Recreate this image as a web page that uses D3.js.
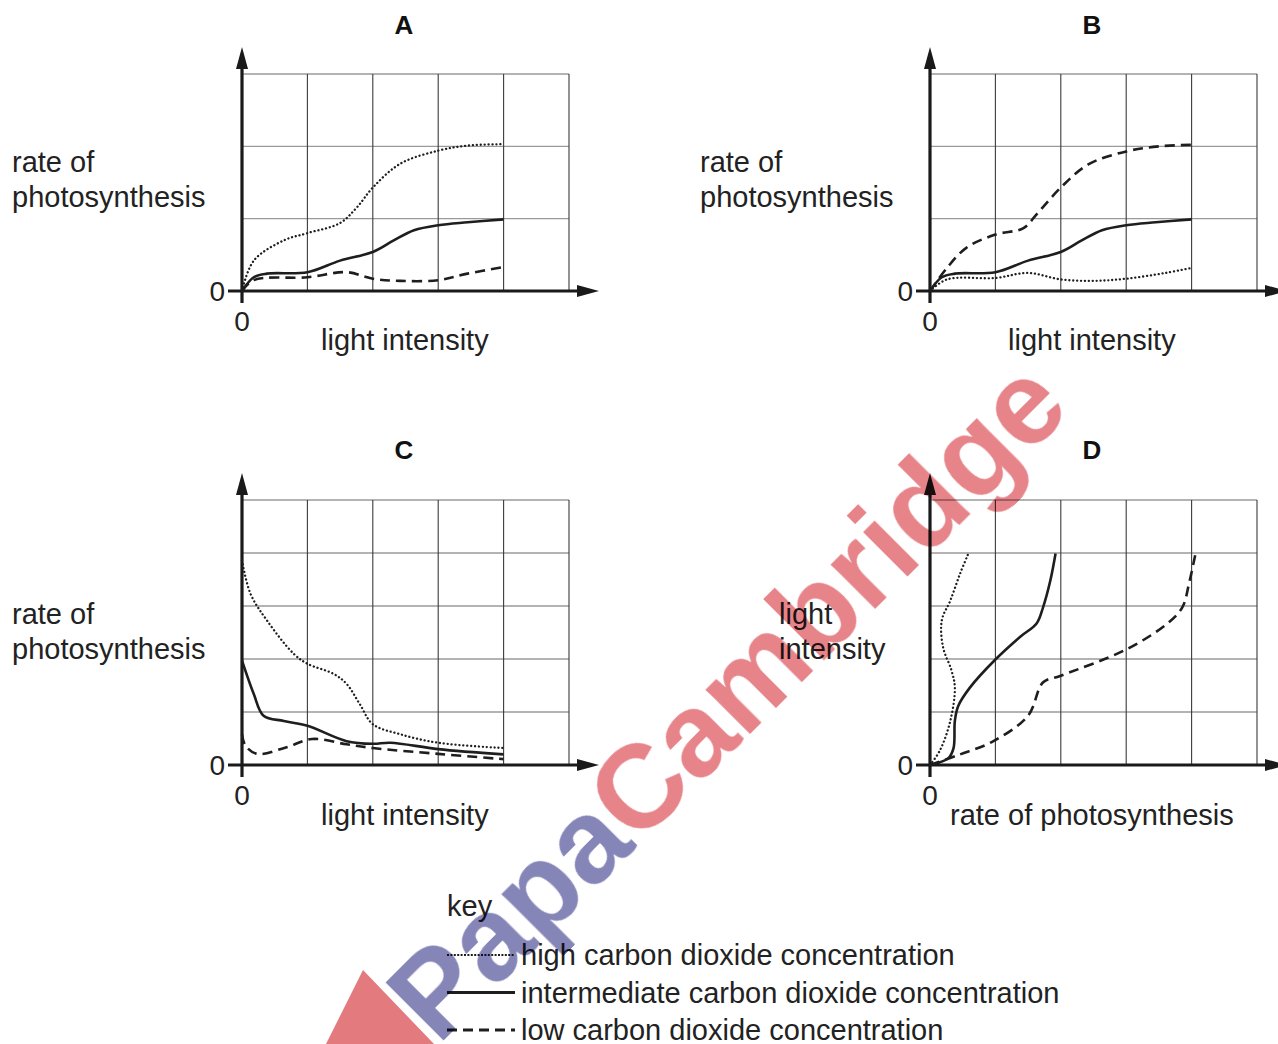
<!DOCTYPE html>
<html>
<head>
<meta charset="utf-8">
<script src="https://cdn.jsdelivr.net/npm/d3@7"></script>
<style>
  body { margin: 0; background: #fff; }
  svg { font-family: "Liberation Sans", Arial, sans-serif; }
</style>
</head>
<body>
<div id="chart"></div>
<script>
// curves, in grid units (x = column, y = row)
const aHigh = [[0,0],[0.18,0.42],[0.64,0.70],[1.0,0.80],[1.5,0.94],[1.76,1.16],[2.0,1.43],[2.42,1.76],[3.0,1.94],[3.45,2.01],[4.0,2.03]];
const aMid  = [[0,0],[0.18,0.19],[0.38,0.24],[1.0,0.26],[1.5,0.42],[2.0,0.54],[2.32,0.70],[2.63,0.84],[3.0,0.91],[3.45,0.95],[4.0,0.99]];
const aLow  = [[0,0],[0.18,0.15],[1.0,0.19],[1.6,0.26],[2.0,0.17],[2.42,0.14],[3.0,0.15],[3.45,0.24],[4.0,0.33]];

const bHigh = [[0,0],[0.26,0.16],[1.0,0.18],[1.5,0.25],[2.0,0.16],[2.5,0.14],[3.0,0.17],[3.6,0.25],[4.0,0.32]];
const bMid  = [[0,0],[0.18,0.19],[0.38,0.24],[1.0,0.26],[1.5,0.42],[2.0,0.54],[2.32,0.70],[2.63,0.84],[3.0,0.91],[3.45,0.95],[4.0,0.99]];
const bLow  = [[0,0],[0.26,0.32],[0.56,0.60],[1.0,0.78],[1.43,0.87],[1.63,1.06],[2.0,1.43],[2.42,1.75],[3.0,1.93],[3.5,2.0],[4.0,2.02]];

const cHigh = [[0,3.86],[0.13,3.23],[0.38,2.73],[0.79,2.10],[1.0,1.91],[1.4,1.72],[1.6,1.53],[1.8,1.15],[2.0,0.77],[2.42,0.58],[3.0,0.42],[4.0,0.32]];
const cMid  = [[0,1.97],[0.18,1.34],[0.33,0.93],[0.64,0.83],[1.0,0.74],[1.6,0.45],[2.0,0.40],[2.27,0.42],[3.0,0.30],[4.0,0.20]];
const cLow  = [[0,0.58],[0.05,0.37],[0.23,0.21],[0.67,0.33],[1.07,0.49],[1.6,0.39],[2.0,0.32],[3.0,0.21],[4.0,0.11]];

const dHigh = [[0,0],[0.15,0.27],[0.31,0.83],[0.38,1.46],[0.33,1.78],[0.20,2.22],[0.18,2.73],[0.31,3.1],[0.46,3.61],[0.59,4.0]];
const dMid  = [[0,0],[0.28,0.13],[0.36,0.32],[0.38,0.83],[0.43,1.11],[0.61,1.46],[1.0,1.99],[1.38,2.42],[1.63,2.67],[1.73,2.98],[1.84,3.48],[1.92,3.99]];
const dLow  = [[0,0],[0.46,0.2],[0.97,0.45],[1.5,0.93],[1.73,1.56],[1.99,1.68],[3.0,2.18],[3.63,2.67],[3.86,2.98],[3.96,3.42],[4.06,3.99]];

const panelNames = ["A", "B", "C", "D"];
const keyLabels = ["high carbon dioxide concentration", "intermediate carbon dioxide concentration", "low carbon dioxide concentration"];

const styles = {
  high: { w: 2.3, dash: "0.1,3.8", cap: "round" },
  mid:  { w: 2.6, dash: null, cap: "butt" },
  low:  { w: 2.6, dash: "10,6", cap: "butt" }
};

const W = 1278, H = 1044;
const svg = d3.select("#chart").append("svg").attr("width", W).attr("height", H);

function panel(opt) {
  const g = svg.append("g");
  const x = d3.scaleLinear().domain([0, 5]).range([opt.x0, opt.x0 + 327]);
  const y = d3.scaleLinear().domain([0, opt.rows]).range([opt.y0, opt.yTop]);

  // grid
  g.selectAll(".hg").data(d3.range(1, opt.rows + 1)).enter().append("line")
    .attr("x1", x(0)).attr("x2", x(5)).attr("y1", d => y(d)).attr("y2", d => y(d))
    .attr("stroke", "#9a9a9a").attr("stroke-width", 1.3);
  g.selectAll(".vg").data(d3.range(1, 6)).enter().append("line")
    .attr("x1", d => x(d)).attr("x2", d => x(d)).attr("y1", y(0)).attr("y2", y(opt.rows))
    .attr("stroke", "#3a3a3a").attr("stroke-width", 1.1);

  // axes with arrows
  g.append("line").attr("x1", x(0) - 14).attr("x2", x(5) + 14)
    .attr("y1", y(0)).attr("y2", y(0)).attr("stroke", "#1a1a1a").attr("stroke-width", 3.2);
  g.append("line").attr("x1", x(0)).attr("x2", x(0))
    .attr("y1", y(0) + 12).attr("y2", opt.yTop - 12).attr("stroke", "#1a1a1a").attr("stroke-width", 3.2);
  const ax = x(5) + 30, ay = y(0);
  g.append("path").attr("d", `M${ax},${ay} L${ax - 22},${ay - 6} L${ax - 22},${ay + 6} Z`).attr("fill", "#1a1a1a");
  const tx = x(0), ty = opt.yTop - 27;
  g.append("path").attr("d", `M${tx},${ty} L${tx - 6},${ty + 22} L${tx + 6},${ty + 22} Z`).attr("fill", "#1a1a1a");

  // curves
  const line = d3.line().x(d => x(d[0])).y(d => y(d[1])).curve(d3.curveCatmullRom.alpha(0.5));
  [["high", opt.high], ["mid", opt.mid], ["low", opt.low]].forEach(([k, data]) => {
    const s = styles[k];
    g.append("path").datum(data).attr("d", line)
      .attr("fill", "none").attr("stroke", "#1e1e1e")
      .attr("stroke-width", s.w).attr("stroke-linecap", s.cap)
      .attr("stroke-dasharray", s.dash);
  });

  // zero labels
  g.append("text").attr("x", x(0) - 17).attr("y", y(0) + 10).attr("text-anchor", "end")
    .attr("font-size", 28).attr("fill", "#222").text("0");
  g.append("text").attr("x", x(0)).attr("y", y(0) + 40).attr("text-anchor", "middle")
    .attr("font-size", 28).attr("fill", "#222").text("0");

  // title
  g.append("text").attr("x", opt.x0 + 162).attr("y", opt.titleY).attr("text-anchor", "middle")
    .attr("font-size", 26).attr("font-weight", "bold").attr("fill", "#111").text(opt.name);

  // axis names
  g.append("text").attr("x", opt.xLab[0]).attr("y", opt.xLab[1])
    .attr("font-size", 29).attr("fill", "#222").text(opt.xName);
  opt.yName.forEach((t, i) => {
    g.append("text").attr("x", opt.yLab[0]).attr("y", opt.yLab[1] + i * 35)
      .attr("font-size", 29).attr("fill", "#222").text(t);
  });
}

panel({ name: panelNames[0], x0: 242, y0: 291, yTop: 74, rows: 3, titleY: 34,
  high: aHigh, mid: aMid, low: aLow,
  xName: "light intensity", xLab: [321, 350], yName: ["rate of", "photosynthesis"], yLab: [12, 172] });
panel({ name: panelNames[1], x0: 930, y0: 291, yTop: 74, rows: 3, titleY: 34,
  high: bHigh, mid: bMid, low: bLow,
  xName: "light intensity", xLab: [1008, 350], yName: ["rate of", "photosynthesis"], yLab: [700, 172] });
panel({ name: panelNames[2], x0: 242, y0: 765, yTop: 500, rows: 5, titleY: 459,
  high: cHigh, mid: cMid, low: cLow,
  xName: "light intensity", xLab: [321, 825], yName: ["rate of", "photosynthesis"], yLab: [12, 624] });
panel({ name: panelNames[3], x0: 930, y0: 765, yTop: 500, rows: 5, titleY: 459,
  high: dHigh, mid: dMid, low: dLow,
  xName: "rate of photosynthesis", xLab: [950, 825], yName: ["light", "intensity"], yLab: [779, 624] });

// key
const key = svg.append("g");
key.append("text").attr("x", 447).attr("y", 916).attr("font-size", 29).attr("fill", "#222").text("key");
const keyStyles = [
  { w: 2.2, dash: "2,1.4" },
  { w: 3.2, dash: null },
  { w: 2.8, dash: "10,6" }
];
const keyY = d3.scalePoint().domain(keyLabels).range([955, 1030]);
keyLabels.forEach((t, i) => {
  key.append("line").attr("x1", 447).attr("x2", 515).attr("y1", keyY(t)).attr("y2", keyY(t))
    .attr("stroke", "#1e1e1e").attr("stroke-width", keyStyles[i].w)
    .attr("stroke-dasharray", keyStyles[i].dash);
  key.append("text").attr("x", 521).attr("y", keyY(t) + 10).attr("font-size", 29).attr("fill", "#222").text(t);
});

// watermark
const wm = svg.append("g").style("mix-blend-mode", "multiply");
wm.append("path").attr("d", "M363,970 L326,1044 L434,1044 Z").attr("fill", "#e27a7e");
const wt = wm.append("text").attr("transform", "translate(438,1046) rotate(-45)")
  .attr("font-size", 118).attr("font-weight", "bold");
wt.append("tspan").attr("fill", "#8585b8").text("Papa");
wt.append("tspan").attr("fill", "#e6848a").text("Cambridge");
</script>
</body>
</html>
